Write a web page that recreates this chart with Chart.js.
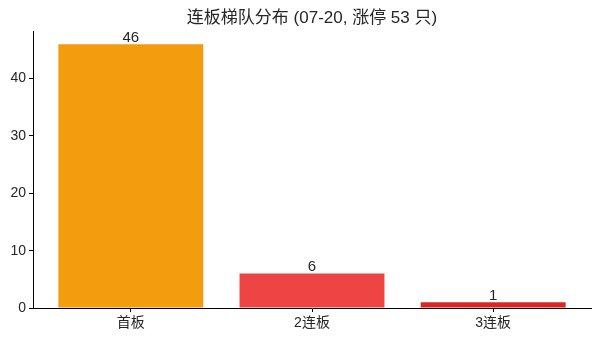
<!DOCTYPE html>
<html>
<head>
<meta charset="utf-8">
<script src="https://cdn.jsdelivr.net/npm/chart.js@4/dist/chart.umd.min.js"></script>
<style>
	html, body { margin: 0; padding: 0; background: #fff; }
	#wrap { width: 600px; height: 340px; }
</style>
</head>
<body>
<div id="wrap"><canvas id="chart" width="600" height="340"></canvas></div>
<script>
/*--------------------------------------------------------------------------------------------------------------------*/

const title = '连板梯队分布 (07-20, 涨停 53 只)';
const categories = ['首板', '2连板', '3连板'];
const counts = [46, 6, 1];
const barColors = ['#F39C0E', '#EF4444', '#DC2626'];
const yTicks = [0, 10, 20, 30, 40];

const FONT = '"Liberation Sans", Arial, "Noto Sans CJK SC", sans-serif';

/*--------------------------------------------------------------------------------------------------------------------*/

/* title centred over the axes, not over the canvas */

const axesTitle = {
	id: 'axesTitle',
	afterDraw: function(chart)
	{
		const ctx = chart.ctx;
		const area = chart.chartArea;

		ctx.save();
		ctx.font = '17px ' + FONT;
		ctx.fillStyle = '#262626';
		ctx.textAlign = 'center';
		ctx.textBaseline = 'middle';
		ctx.fillText(title, (area.left + area.right) / 2, 18);
		ctx.restore();
	},
};

/*--------------------------------------------------------------------------------------------------------------------*/

const valueLabels = {
	id: 'valueLabels',
	afterDatasetsDraw: function(chart)
	{
		const ctx = chart.ctx;
		const meta = chart.getDatasetMeta(0);

		ctx.save();
		ctx.font = '15px ' + FONT;
		ctx.fillStyle = '#262626';
		ctx.textAlign = 'center';
		ctx.textBaseline = 'bottom';

		meta.data.forEach((bar, i) => {
			ctx.fillText(String(counts[i]), bar.x, bar.y + 1);
		});

		ctx.restore();
	},
};

/*--------------------------------------------------------------------------------------------------------------------*/

new Chart(document.getElementById('chart').getContext('2d'), {
	type: 'bar',
	data: {
		datasets: [{
			data: counts.map((v, i) => ({x: i, y: v})),
			backgroundColor: barColors,
			borderWidth: 0,
			barPercentage: 0.8,
			categoryPercentage: 1.0,
		}],
	},
	options: {
		responsive: false,
		animation: false,
		layout: {
			padding: {left: 0, right: 9, top: 31, bottom: 0},
		},
		plugins: {
			legend: {display: false},
			tooltip: {enabled: false},
			title: {display: false},
		},
		scales: {
			x: {
				type: 'linear',
				offset: false,
				min: -0.54,
				max: 2.54,
				afterBuildTicks: (scale) => {
					scale.ticks = categories.map((c, i) => ({value: i}));
				},
				afterFit: (scale) => {
					scale.height = 32;
				},
				ticks: {
					callback: (value) => categories[value],
					color: '#262626',
					font: {family: FONT, size: 14},
					padding: 3,
					maxRotation: 0,
				},
				grid: {
					offset: false,
					drawOnChartArea: false,
					drawTicks: true,
					tickLength: 4,
					color: '#000',
				},
				border: {display: true, color: '#000', width: 1},
			},
			y: {
				min: 0,
				max: 48.3,
				afterBuildTicks: (scale) => {
					scale.ticks = yTicks.map((v) => ({value: v}));
				},
				afterFit: (scale) => {
					scale.width = 33;
				},
				ticks: {
					color: '#262626',
					font: {family: FONT, size: 14},
					padding: 3,
				},
				grid: {
					drawOnChartArea: false,
					drawTicks: true,
					tickLength: 4,
					color: '#000',
				},
				border: {display: true, color: '#000', width: 1},
			},
		},
	},
	plugins: [axesTitle, valueLabels],
});

/*--------------------------------------------------------------------------------------------------------------------*/
</script>
</body>
</html>
